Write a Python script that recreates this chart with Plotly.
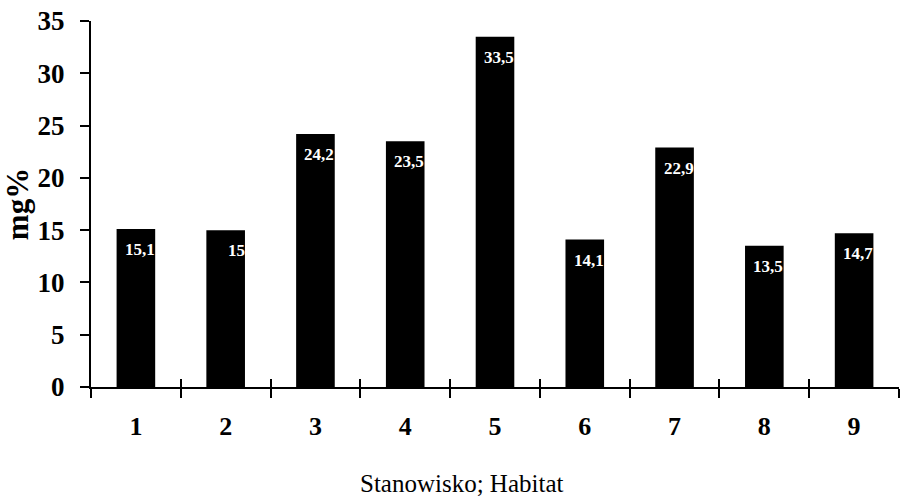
import plotly.graph_objects as go

categories = ["1", "2", "3", "4", "5", "6", "7", "8", "9"]
values = [15.1, 15, 24.2, 23.5, 33.5, 14.1, 22.9, 13.5, 14.7]
value_labels = ["15,1", "15", "24,2", "23,5", "33,5", "14,1", "22,9", "13,5", "14,7"]
y_ticks = [0, 5, 10, 15, 20, 25, 30, 35]

SERIF = "Liberation Serif, Times New Roman, serif"

fig = go.Figure()
fig.add_trace(go.Bar(
    x=categories, y=values, width=0.43,
    marker=dict(color="black", line=dict(width=0)),
    hoverinfo="skip", showlegend=False,
))
# invisible trace on overlay axis for crossing ticks
fig.add_trace(go.Scatter(
    x=categories, y=values, xaxis="x2", mode="markers",
    marker=dict(opacity=0), hoverinfo="skip", showlegend=False,
))

for i, (v, t) in enumerate(zip(values, value_labels)):
    fig.add_annotation(
        x=i, y=v, text=t, showarrow=False,
        xanchor="right", yanchor="top", xshift=21, yshift=-9,
        font=dict(family=SERIF, size=17, color="white", weight="bold"),
    )

fig.add_annotation(
    xref="paper", yref="paper", x=0.459, y=-0.263,
    text="Stanowisko; Habitat", showarrow=False,
    xanchor="center", yanchor="middle",
    font=dict(family=SERIF, size=25, color="black"),
)

fig.update_layout(
    width=905, height=501,
    margin=dict(l=89, r=6, t=15, b=114),
    paper_bgcolor="white", plot_bgcolor="white",
    xaxis=dict(
        type="category", categoryorder="array", categoryarray=categories,
        range=[-0.5, 8.5],
        tickson="boundaries", ticks="outside", ticklen=9, tickwidth=2, tickcolor="black",
        showline=True, linecolor="black", linewidth=2,
        showgrid=False, zeroline=False,
        tickfont=dict(family=SERIF, size=26, color="black", weight="bold"),
        ticklabelstandoff=15,
    ),
    xaxis2=dict(
        type="category", categoryorder="array", categoryarray=categories,
        overlaying="x", anchor="y", side="bottom", matches="x",
        tickson="boundaries", ticks="inside", ticklen=8, tickwidth=2, tickcolor="black",
        showticklabels=False, showline=False, showgrid=False, zeroline=False,
    ),
    yaxis=dict(
        range=[0, 35], tickvals=y_ticks,
        ticks="outside", ticklen=9, tickwidth=2, tickcolor="black",
        showline=True, linecolor="black", linewidth=2,
        showgrid=False, zeroline=False,
        tickfont=dict(family=SERIF, size=27, color="black", weight="bold"),
        ticklabelstandoff=10, ticklabeloverflow="allow",
        title=dict(text="mg%", font=dict(family=SERIF, size=31, color="black", weight="bold"), standoff=10),
    ),
)

fig.write_html(
    "out.html",
    config={"displayModeBar": False},
    post_script="document.body.style.margin='0';document.body.style.overflow='hidden';",
)
